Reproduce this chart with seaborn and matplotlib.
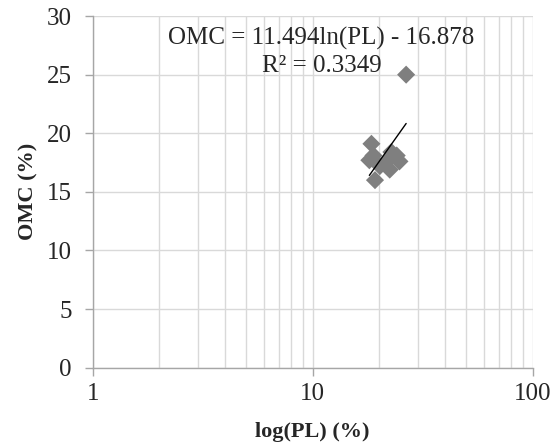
#!/usr/bin/env python3
"""
OMC vs plastic limit (log scale) with logarithmic trendline.
"""

import numpy as np
import pandas as pd
import matplotlib
matplotlib.use("Agg")
import matplotlib.pyplot as plt
import seaborn as sns

# data
pl = [26.6, 18.5, 18.1, 18.9, 19.2, 24.1, 24.8, 22.4, 21.7, 20.2, 22.8]
omc = [25.0, 19.1, 17.7, 18.1, 16.0, 18.1, 17.6, 16.9, 17.6, 17.2, 18.4]

# trendline reported on the chart: OMC = a*ln(PL) + b
fit_a = 11.494
fit_b = -16.878
r_squared = 0.3349

x_ticks = [1, 10, 100]
x_tick_labels = ["1", "10", "100"]
y_ticks = [0, 5, 10, 15, 20, 25, 30]

sns.set_style("white")
plt.rcParams["font.family"] = ["Liberation Serif", "DejaVu Serif"]

df = pd.DataFrame({"PL": pl, "OMC": omc})

fig = plt.figure(figsize=(5.56, 4.46), dpi=100)
ax = fig.add_axes([0.1667, 0.1756, 0.958 - 0.1667, 0.964 - 0.1756])

ax.set_xscale("log")
ax.set_xlim(1, 100)
ax.set_ylim(0, 30)

grid_col = "#d9d9d9"
ax.grid(True, which="major", axis="both", color=grid_col, lw=1.0, zorder=0)
ax.grid(True, which="minor", axis="x", color=grid_col, lw=1.0, zorder=0)
ax.set_axisbelow(True)

sns.scatterplot(data=df, x="PL", y="OMC", marker="D", s=85, color="#7f7f7f",
                edgecolor="none", ax=ax, zorder=3)

# trendline between min and max PL
x_fit = np.linspace(df["PL"].min(), df["PL"].max(), 50)
fit_df = pd.DataFrame({"PL": x_fit, "OMC": fit_a * np.log(x_fit) + fit_b})
sns.lineplot(data=fit_df, x="PL", y="OMC", color="black", lw=1.0, ax=ax, zorder=4)

eq = f"OMC = {fit_a}ln(PL) - {abs(fit_b)}\nR² = {r_squared}"
fig.text(321.6 / 556, 1 - 52 / 446, eq, ha="center", va="center",
         fontsize=18, linespacing=1.3)

ax.set_xticks(x_ticks)
ax.set_xticklabels(x_tick_labels)
ax.set_yticks(y_ticks)
ax.tick_params(axis="both", which="major", labelsize=18, length=6, width=1,
               color="#a6a6a6", direction="out", left=True, bottom=True)
ax.tick_params(axis="y", pad=9)
ax.tick_params(axis="x", pad=5)
ax.tick_params(axis="x", which="minor", length=0)

for side in ["top", "right"]:
    ax.spines[side].set_visible(False)
for side in ["left", "bottom"]:
    ax.spines[side].set_color("#a6a6a6")
    ax.spines[side].set_linewidth(1.0)

ax.set_xlabel("log(PL) (%)", fontsize=16, fontweight="bold", labelpad=12)
ax.set_ylabel("OMC (%)", fontsize=16, fontweight="bold", labelpad=6)

fig.savefig("out.png", dpi=100)
plt.close(fig)
